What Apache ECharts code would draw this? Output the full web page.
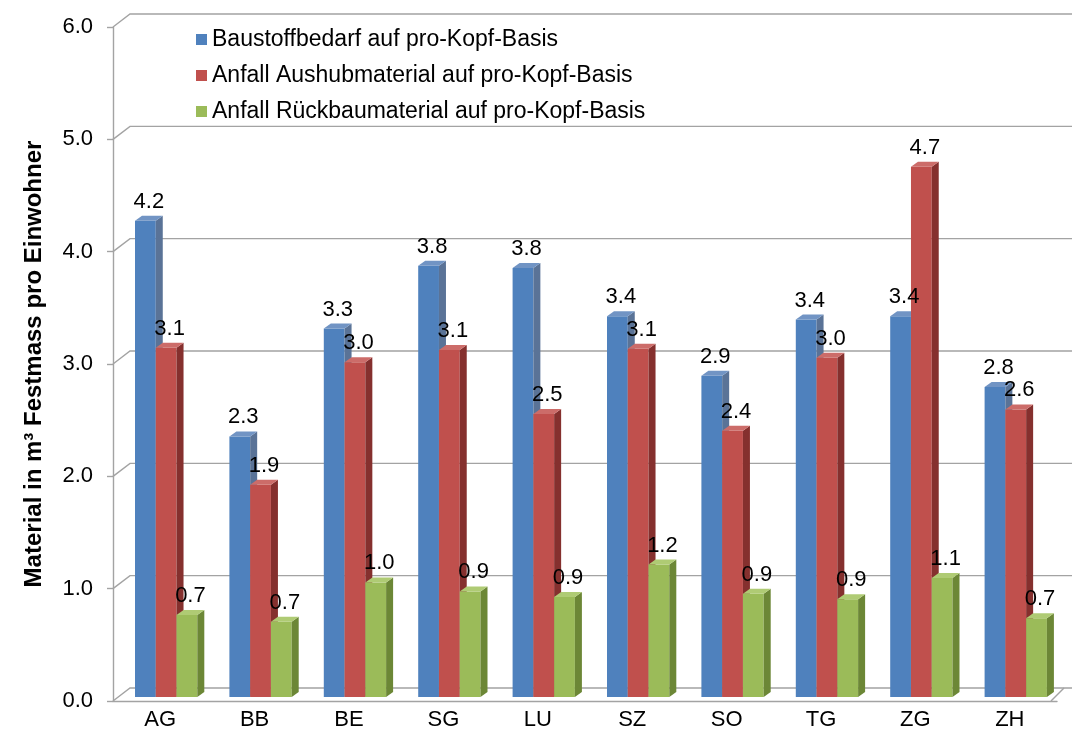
<!DOCTYPE html>
<html>
<head>
<meta charset="utf-8">
<script src="https://cdn.jsdelivr.net/npm/echarts@6/dist/echarts.min.js"></script>
<style>
  html, body { margin: 0; padding: 0; background: #fff; }
  #chart { width: 1072px; height: 742px; }
</style>
</head>
<body>
<div id="chart"></div>
<script>
const categories = ['AG', 'BB', 'BE', 'SG', 'LU', 'SZ', 'SO', 'TG', 'ZG', 'ZH']
const baustoff = [4.24, 2.32, 3.28, 3.84, 3.82, 3.39, 2.86, 3.36, 3.39, 2.76]
const aushub = [3.11, 1.89, 2.98, 3.09, 2.52, 3.10, 2.37, 3.02, 4.72, 2.56]
const rueckbau = [0.73, 0.67, 1.02, 0.94, 0.89, 1.18, 0.92, 0.87, 1.06, 0.70]
const yTicks = [0, 1, 2, 3, 4, 5, 6]

const seriesNames = [
  'Baustoffbedarf auf pro-Kopf-Basis',
  'Anfall Aushubmaterial auf pro-Kopf-Basis',
  'Anfall Rückbaumaterial auf pro-Kopf-Basis'
]
// front, side, top
const palette = [
  ['#4F81BD', '#5A7397', '#7194C4'],
  ['#C0504D', '#85302E', '#CC6C69'],
  ['#9BBB59', '#6C8736', '#AFCB74']
]

const FONT = 'Liberation Sans, Arial, sans-serif'
const FS = 22
const DX = 7 // 3d depth
const DY = -5
const WALL_DX = 17
const WALL_DY = -13
const gridColor = '#A3A3A3'

const chart = echarts.init(document.getElementById('chart'))

function barRenderer(s) {
  return function(params, api) {
    const idx = api.value(0)
    const val = api.value(1)
    const base = api.coord([idx, 0])
    const top = api.coord([idx, val])
    const bandW = api.size([1, 0])[0]
    const barW = bandW * 0.22
    const x = base[0] - bandW / 2 + 22 + s * barW
    const yb = base[1] - 4
    const yt = top[1] - 4
    const c = palette[s]
    return {
      type: 'group',
      children: [
        {
          type: 'rect',
          shape: { x: x, y: yt, width: barW, height: yb - yt },
          style: { fill: c[0] }
        },
        {
          type: 'polygon',
          shape: { points: [[x + barW, yt], [x + barW + DX, yt + DY], [x + barW + DX, yb + DY], [x + barW, yb]] },
          style: { fill: c[1] }
        },
        {
          type: 'polygon',
          shape: { points: [[x, yt], [x + DX, yt + DY], [x + barW + DX, yt + DY], [x + barW, yt]] },
          style: { fill: c[2] }
        },
        {
          type: 'text',
          z2: 100,
          style: {
            text: val.toFixed(1),
            x: x + (barW + DX) / 2,
            y: yt + DY - 3,
            align: 'center',
            verticalAlign: 'bottom',
            fill: '#000',
            font: FS + 'px ' + FONT
          }
        }
      ]
    }
  }
}

function wallRenderer(params, api) {
  const v = api.value(0)
  const cs = params.coordSys
  const y = api.coord([0, v])[1]
  const x0 = cs.x
  const children = [{
    type: 'polyline',
    shape: { points: [[x0, y], [x0 + WALL_DX, y + WALL_DY], [1072, y + WALL_DY]] },
    style: { stroke: gridColor, lineWidth: 1.4, fill: null }
  }]
  if (v === 0) {
    const xr = cs.x + cs.width
    children.push({
      type: 'polyline',
      shape: { points: [[xr - 6, y], [xr + 7, y + WALL_DY]] },
      style: { stroke: gridColor, lineWidth: 1.4, fill: null }
    })
  }
  return { type: 'group', children: children }
}

const barSeries = [baustoff, aushub, rueckbau].map((arr, s) => ({
  name: seriesNames[s],
  type: 'custom',
  renderItem: barRenderer(s),
  itemStyle: { color: palette[s][0] },
  encode: { x: 0, y: 1 },
  data: arr.map((v, i) => [i, v]),
  z: 3
}))

chart.setOption({
  animation: false,
  backgroundColor: '#fff',
  textStyle: { fontFamily: FONT },
  grid: { left: 113, right: 15, top: 27, bottom: 41, containLabel: false },
  legend: {
    orient: 'vertical',
    left: 191,
    top: 23,
    icon: 'rect',
    itemWidth: 11,
    itemHeight: 11,
    itemGap: 13,
    textStyle: { fontSize: 23, color: '#000', fontFamily: FONT, padding: [0, 0, 0, 0] },
    data: seriesNames
  },
  xAxis: {
    type: 'category',
    data: categories,
    axisLine: { show: true, lineStyle: { color: gridColor, width: 1.4 } },
    axisTick: { show: false },
    axisLabel: { fontSize: FS, color: '#000', margin: 8, fontFamily: FONT },
    splitLine: { show: false }
  },
  yAxis: {
    type: 'value',
    min: 0,
    max: 6,
    interval: 1,
    name: 'Material in m³ Festmass pro Einwohner',
    nameLocation: 'middle',
    nameGap: 67,
    nameTextStyle: { fontSize: 24, fontWeight: 'bold', color: '#000', fontFamily: FONT },
    axisLine: { show: true, lineStyle: { color: gridColor, width: 1.4 } },
    axisTick: { show: true, length: 6, lineStyle: { color: gridColor, width: 1.4 } },
    axisLabel: {
      fontSize: FS,
      color: '#000',
      margin: 20,
      fontFamily: FONT,
      formatter: v => v.toFixed(1)
    },
    splitLine: { show: false }
  },
  series: [{
    type: 'custom',
    renderItem: wallRenderer,
    encode: { y: 0 },
    data: yTicks.map(v => [v]),
    silent: true,
    z: 1
  }].concat(barSeries)
})
</script>
</body>
</html>
